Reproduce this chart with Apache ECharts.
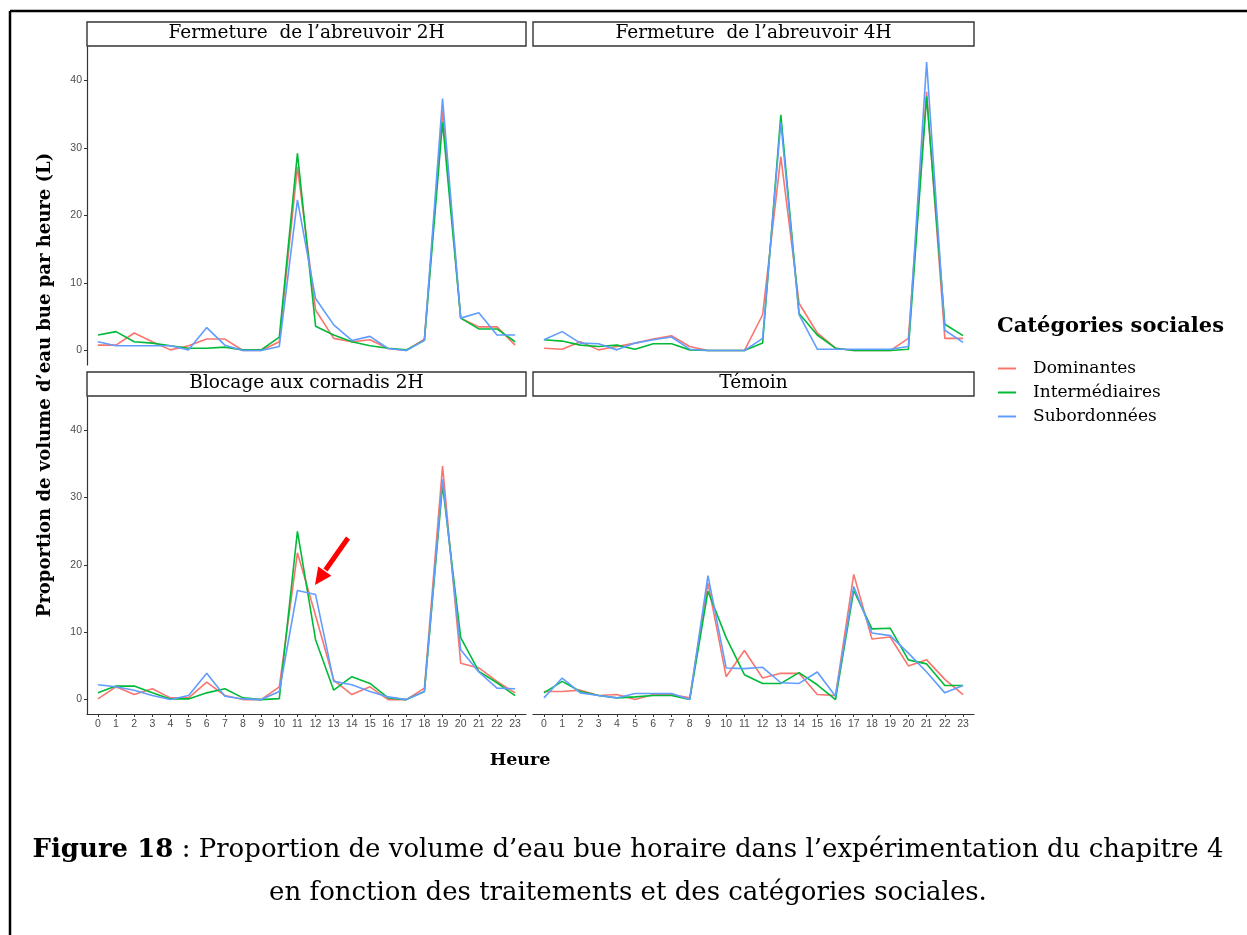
<!DOCTYPE html>
<html>
<head>
<meta charset="utf-8">
<script src="https://cdn.jsdelivr.net/npm/echarts@6/dist/echarts.min.js"></script>
<style>
html,body{margin:0;padding:0;background:#fff;}
#chart{width:1247px;height:935px;}
</style>
</head>
<body>
<div id="chart"></div>
<script>
// ---- data ----
const hours = [0,1,2,3,4,5,6,7,8,9,10,11,12,13,14,15,16,17,18,19,20,21,22,23];
const categories = ['Dominantes','Intermédiaires','Subordonnées'];
const panelTitles = ['Fermeture  de l\u2019abreuvoir 2H','Fermeture  de l\u2019abreuvoir 4H','Blocage aux cornadis 2H','Témoin'];
const yTicks = [0,10,20,30,40];

// Fermeture de l'abreuvoir 2H
const f2_dom = [0.8,0.8,2.6,1.3,0.1,0.7,1.7,1.7,0,0,1.3,27.2,6.0,1.8,1.3,1.6,0.3,0,1.7,35.5,4.8,3.5,3.5,0.8];
const f2_int = [2.3,2.8,1.3,1.1,0.7,0.35,0.35,0.5,0.1,0.1,2.0,29.2,3.6,2.3,1.3,0.7,0.35,0.1,1.5,33.8,4.8,3.2,3.2,1.3];
const f2_sub = [1.3,0.7,0.7,0.7,0.7,0.1,3.4,0.8,0,0,0.6,22.3,7.7,3.8,1.5,2.1,0.3,0,1.5,37.3,4.8,5.6,2.3,2.3];
// Fermeture de l'abreuvoir 4H
const f4_dom = [0.35,0.2,1.3,0.1,0.6,1.1,1.7,2.2,0.6,0,0,0,5.3,28.7,7.0,2.6,0.35,0,0,0,1.8,38.3,1.8,1.8];
const f4_int = [1.6,1.4,0.8,0.6,0.8,0.2,1.0,1.0,0.1,0,0,0,1.1,34.9,5.5,2.3,0.35,0,0,0,0.2,37.6,3.9,2.2];
const f4_sub = [1.6,2.8,1.1,1.0,0.1,1.1,1.6,2.0,0.2,0,0,0,1.8,33.8,5.3,0.2,0.2,0.2,0.2,0.2,0.6,42.7,3.0,1.2];
// Blocage aux cornadis 2H
const b2_dom = [0.1,1.9,0.75,1.6,0.25,0.25,2.6,0.6,0,0,1.9,21.8,12.5,2.9,0.75,1.9,0,0,1.7,34.7,5.4,4.7,2.7,1.0];
const b2_int = [1.0,2.0,2.0,1.0,0.1,0.1,1.0,1.6,0.25,0,0.15,25.0,8.9,1.4,3.4,2.4,0.25,0,1.2,31.9,9.2,4.2,2.5,0.6];
const b2_sub = [2.2,1.9,1.4,0.6,0,0.6,3.9,0.5,0.1,0,1.2,16.2,15.6,2.7,2.2,1.2,0.4,0,1.2,32.7,7.4,4.1,1.7,1.6];
// Témoin
const t_dom = [1.2,1.2,1.4,0.6,0.75,0,0.75,0.75,0.25,17.3,3.4,7.3,3.2,3.9,3.9,0.75,0.6,18.6,9.0,9.3,5.0,5.9,3.0,0.75];
const t_int = [1.0,2.7,1.2,0.6,0.25,0.4,0.6,0.6,0,16.1,9.2,3.7,2.4,2.4,4.0,2.2,0,16.2,10.5,10.6,5.9,5.3,2.1,2.1];
const t_sub = [0.25,3.2,1.0,0.6,0.25,0.9,0.9,0.9,0,18.4,4.7,4.6,4.8,2.5,2.4,4.1,0.5,16.8,9.9,9.5,6.9,4.1,1.0,2.1];

const panelData = [
  [f2_dom, f2_int, f2_sub],
  [f4_dom, f4_int, f4_sub],
  [b2_dom, b2_int, b2_sub],
  [t_dom, t_int, t_sub]
];
const colors = ['#F8766D','#00BA38','#619CFF'];

// ---- layout ----
const grids = [
  {left:87, top:47, width:439, height:318},
  {left:533, top:47, width:441, height:318},
  {left:87, top:397, width:439, height:317},
  {left:533, top:397, width:441, height:317}
];
const stripH = 25;
const serif = '"DejaVu Serif", serif';
const sans = '"Liberation Sans", Arial, sans-serif';

const xAxes = [], yAxes = [], series = [];
grids.forEach((g, i) => {
  const isBottom = i >= 2;
  const isLeft = i % 2 === 0;
  xAxes.push({
    type:'value', gridIndex:i, min:-0.6, max:23.6,
    axisLine:{show:isBottom, onZero:false, lineStyle:{color:'#333', width:1.2}},
    axisTick:{show:isBottom, customValues:hours, length:3, lineStyle:{color:'#333'}},
    axisLabel:{show:isBottom, customValues:hours, color:'#4D4D4D', fontFamily:sans, fontSize:10.5, margin:5},
    splitLine:{show:false}
  });
  yAxes.push({
    type:'value', gridIndex:i, min:-2.14, max:44.94,
    axisLine:{show:isLeft, onZero:false, lineStyle:{color:'#333', width:1.2}},
    axisTick:{show:isLeft, customValues:yTicks, length:3, lineStyle:{color:'#333'}},
    axisLabel:{show:isLeft, customValues:yTicks, color:'#4D4D4D', fontFamily:sans, fontSize:10.5, margin:5},
    splitLine:{show:false}
  });
  panelData[i].forEach((arr, c) => {
    series.push({
      type:'line', name:categories[c], xAxisIndex:i, yAxisIndex:i,
      data: hours.map((h, k) => [h, arr[k]]),
      showSymbol:false, symbol:'none',
      lineStyle:{color:colors[c], width:1.6},
      itemStyle:{color:colors[c]},
      animation:false
    });
  });
});

const graphics = [];
// outer frame
graphics.push({type:'line', shape:{x1:10, y1:11, x2:1247, y2:11}, style:{stroke:'#000', lineWidth:2.5}});
graphics.push({type:'line', shape:{x1:10, y1:11, x2:10, y2:935}, style:{stroke:'#000', lineWidth:2.5}});
// strips
grids.forEach((g, i) => {
  graphics.push({type:'rect', shape:{x:g.left, y:g.top - stripH, width:g.width, height:stripH - 1},
    style:{fill:'#fff', stroke:'#333', lineWidth:1.4}});
  graphics.push({type:'text', x:g.left + g.width/2, y:g.top - stripH/2 - 1,
    style:{text:panelTitles[i], fill:'#000', font:'18.5px ' + serif, align:'center', verticalAlign:'middle'}});
});
// axis titles
graphics.push({type:'text', x:45, y:385, rotation:Math.PI/2,
  style:{text:'Proportion de volume d\u2019eau bue par heure (L)', fill:'#000', font:'bold 18px ' + serif, align:'center', verticalAlign:'middle'}});
graphics.push({type:'text', x:520, y:760,
  style:{text:'Heure', fill:'#000', font:'bold 17.5px ' + serif, align:'center', verticalAlign:'middle'}});
// legend title
graphics.push({type:'text', x:997, y:327,
  style:{text:'Catégories sociales', fill:'#000', font:'bold 21px ' + serif, align:'left', verticalAlign:'middle'}});
// arrow annotation
graphics.push({type:'line', shape:{x1:348, y1:538, x2:325.5, y2:570}, style:{stroke:'#FF0000', lineWidth:5}});
graphics.push({type:'polygon', shape:{points:[[315,585],[331.4,575.7],[318.2,566.5]]}, style:{fill:'#FF0000'}});
// caption
graphics.push({type:'text', x:628, y:850,
  style:{rich:{b:{font:'bold 26px ' + serif, fill:'#000'}, n:{font:'26px ' + serif, fill:'#000'}},
    text:'{b|Figure 18}{n| : Proportion de volume d\u2019eau bue horaire dans l\u2019expérimentation du chapitre 4}',
    align:'center', verticalAlign:'middle'}});
graphics.push({type:'text', x:628, y:893,
  style:{text:'en fonction des traitements et des catégories sociales.', fill:'#000', font:'26px ' + serif, align:'center', verticalAlign:'middle'}});

const chart = echarts.init(document.getElementById('chart'), null, {renderer:'canvas'});
chart.setOption({
  backgroundColor:'#fff',
  animation:false,
  grid: grids,
  xAxis: xAxes,
  yAxis: yAxes,
  series: series,
  legend:{
    data:categories, orient:'vertical', left:993, top:355,
    icon:'rect', itemWidth:18, itemHeight:2, itemGap:7,
    textStyle:{fontFamily:serif, fontSize:17, color:'#000', padding:[0,0,0,12]}
  },
  graphic: graphics
});
</script>
</body>
</html>
